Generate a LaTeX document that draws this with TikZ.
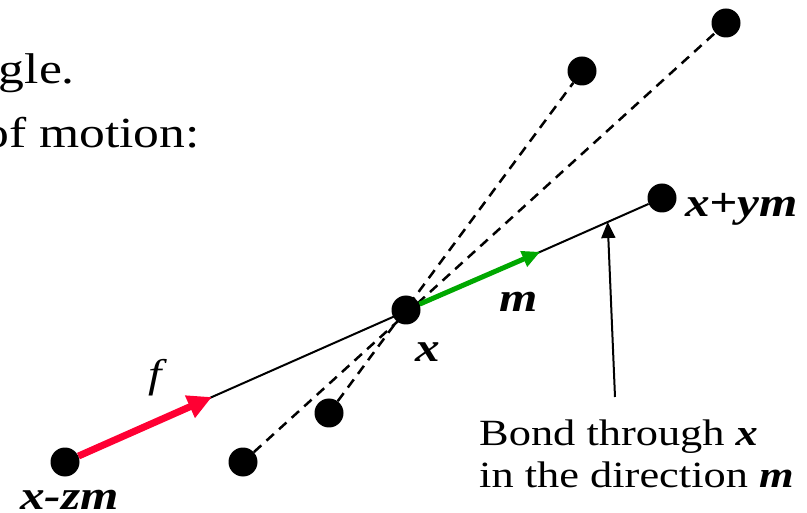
\documentclass[tikz,border=0pt]{standalone}
\usepackage{fontspec}
\setmainfont{Liberation Serif}[FakeStretch=1.2]
\usetikzlibrary{arrows.meta, calc}
\definecolor{fred}{RGB}{255,0,51}
\definecolor{mgreen}{RGB}{0,168,0}

\begin{document}
\begin{tikzpicture}[x=1pt, y=-1pt,
  dot/.style={circle, fill=black, inner sep=0pt, minimum size=29pt},
  lbl/.style={font=\fontsize{41}{44}\selectfont\bfseries\itshape, inner sep=0pt},
  txt/.style={font=\fontsize{37}{42}\selectfont, inner sep=0pt}]
  \path[use as bounding box] (0,0) rectangle (807,513);
  \clip (0,0) rectangle (807,513);
  % text cut off from the slide
  \node[txt, font=\fontsize{43}{46}\selectfont, anchor=base east] (ta) at (75,84) {gle.};
  \node[txt, font=\fontsize{43}{46}\selectfont, anchor=base east] (tb) at (200,148) {of motion:};
  % points
  \node[dot] (xc) at (406,310) {};
  \node[dot] (xm) at (65,462) {};
  \node[dot] (xp) at (662,198) {};
  \node[dot] (ua) at (582,71) {};
  \node[dot] (ub) at (726,23) {};
  \node[dot] (la) at (329,413) {};
  \node[dot] (lb) at (243,462) {};
  % labels
  \node[lbl, anchor=base] (lx) at (428,362) {x};
  \node[lbl, anchor=base] (lm) at (519,312) {m};
  \node[lbl, anchor=base west] (lp) at (685,217) {x+ym};
  \node[lbl, anchor=base west] (lz) at (20,509) {x-zm};
  \node[font=\fontsize{40}{44}\selectfont\itshape, inner sep=0pt] (lf) at (155,378) {f};
  \node[txt, align=left, anchor=north west] (bond) at (479,420)
    {Bond through \textbf{\textit{x}}\\in the direction \textbf{\textit{m}}};
  % bonds
  \coordinate (ftip) at ($(xm)!0.246!(xp)$);
  \coordinate (mtip) at ($(xm)!0.796!(xp)$);
  \coordinate (btip) at ($(xm)!0.909!(xp)$);
  \coordinate (btail) at (615,397);
  \draw[line width=2pt] (xm) -- (xp);
  \draw[line width=2.5pt, dash pattern=on 10pt off 7pt] (lb) -- (ub);
  \draw[line width=2.5pt, dash pattern=on 10pt off 7pt] (la) -- (ua);
  \draw[fred, line width=7pt, -{Triangle[length=24pt,width=23pt]}] (xm) -- (ftip);
  \draw[mgreen, line width=5pt, -{Triangle[length=18pt,width=16pt]}] (xc) -- (mtip);
  \draw[line width=2pt, -{Triangle[length=16pt,width=14pt]}] (btail) -- (btip);
\end{tikzpicture}
\end{document}
